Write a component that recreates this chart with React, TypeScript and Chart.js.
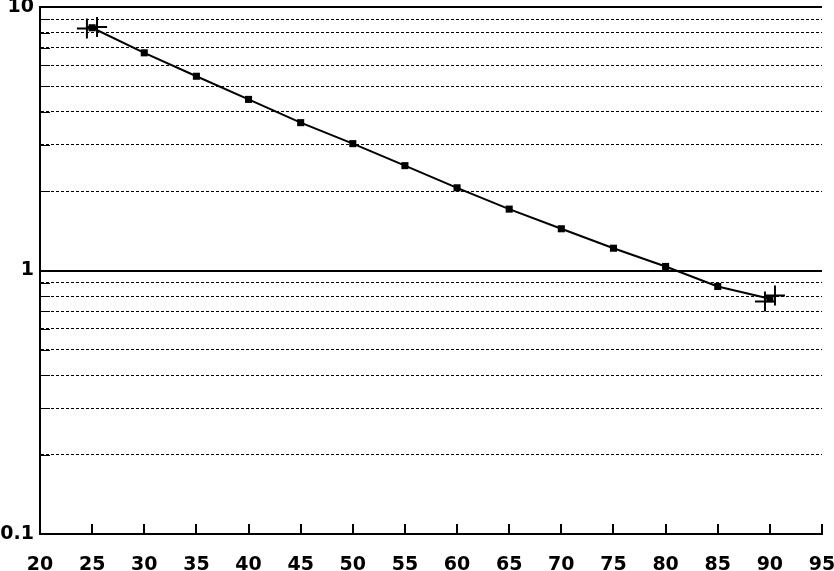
import React, { useEffect, useRef } from "react";
import { Chart, registerables } from "chart.js";

Chart.register(...registerables);

const xValues = [25, 30, 35, 40, 45, 50, 55, 60, 65, 70, 75, 80, 85, 90];
const yValues = [8.34, 6.7, 5.46, 4.46, 3.64, 3.03, 2.5, 2.06, 1.71, 1.44, 1.215, 1.036, 0.87, 0.781];
const crossX = [24.5, 25.47, 89.53, 90.49];
const crossY = [8.29, 8.4, 0.763, 0.804];
const yTickValues = [0.1, 0.2, 0.3, 0.4, 0.5, 0.6, 0.7, 0.8, 0.9, 1, 2, 3, 4, 5, 6, 7, 8, 9, 10];
const yLabelValues = [0.1, 1, 10];
const xMin = 20;
const xMax = 95;
const xStep = 5;

const isMajor = (v: number) => yLabelValues.some((m) => Math.abs(m - v) < 1e-9);

const inwardTicks = {
  id: "inwardTicks",
  afterDraw(chart: any) {
    const { ctx, chartArea, scales } = chart;
    ctx.save();
    ctx.strokeStyle = "#000";
    ctx.lineWidth = 2;
    scales.x.ticks.forEach((t: any) => {
      const px = Math.round(scales.x.getPixelForValue(t.value));
      ctx.beginPath();
      ctx.moveTo(px, chartArea.bottom);
      ctx.lineTo(px, chartArea.bottom - 10);
      ctx.stroke();
    });
    ctx.lineWidth = 1;
    scales.y.ticks.forEach((t: any) => {
      if (isMajor(t.value)) return;
      const py = Math.round(scales.y.getPixelForValue(t.value)) + 0.5;
      ctx.beginPath();
      ctx.moveTo(chartArea.left, py);
      ctx.lineTo(chartArea.left + 10, py);
      ctx.stroke();
    });
    ctx.restore();
  },
};

const zeroPad = (s: any) => {
  s.paddingLeft = 0;
  s.paddingRight = 0;
  s.paddingTop = 0;
  s.paddingBottom = 0;
};

export default function App() {
  const ref = useRef<HTMLCanvasElement | null>(null);
  useEffect(() => {
    document.body.style.margin = "0";
    if (!ref.current) return;
    Chart.defaults.font.family = "'DejaVu Sans', sans-serif";
    Chart.defaults.color = "#000";
    const chart = new Chart(ref.current, {
      type: "line",
      data: {
        datasets: [
          {
            data: xValues.map((x, i) => ({ x, y: yValues[i] })),
            borderColor: "#000",
            backgroundColor: "#000",
            borderWidth: 2,
            pointStyle: "rect",
            pointRadius: 5,
            pointBorderWidth: 0,
            tension: 0,
            clip: false,
          },
          {
            data: crossX.map((x, i) => ({ x, y: crossY[i] })),
            showLine: false,
            borderColor: "#000",
            backgroundColor: "#000",
            pointStyle: "cross",
            pointRadius: 10,
            pointBorderWidth: 2,
            clip: false,
          },
        ],
      },
      options: {
        responsive: false,
        animation: false,
        events: [],
        layout: { autoPadding: false, padding: { top: 7, right: 12, left: 0, bottom: 0 } },
        plugins: { legend: { display: false }, tooltip: { enabled: false } },
        scales: {
          x: {
            type: "linear",
            min: xMin,
            max: xMax,
            afterFit: (s: any) => {
              s.height = 37;
              zeroPad(s);
            },
            ticks: {
              stepSize: xStep,
              autoSkip: false,
              maxRotation: 0,
              padding: 20,
              font: { size: 19, weight: "bold" },
              color: "#000",
            },
            grid: { display: false, drawTicks: false },
            border: { display: true, color: "#000", width: 2 },
          },
          y: {
            type: "logarithmic",
            min: 0.1,
            max: 10,
            afterFit: (s: any) => {
              s.width = 40;
              zeroPad(s);
            },
            afterBuildTicks: (s: any) => {
              s.ticks = yTickValues.map((v) => ({ value: v, major: isMajor(v) }));
            },
            ticks: {
              autoSkip: false,
              padding: 6,
              font: { size: 19, weight: "bold" },
              color: "#000",
              callback: (v: any) => (isMajor(Number(v)) ? String(v) : ""),
            },
            grid: {
              drawTicks: false,
              color: "#000",
              lineWidth: (c: any) => (isMajor(c.tick.value) ? 2 : 1),
            },
            border: {
              display: true,
              color: "#000",
              width: 2,
              dash: (c: any) => (c.tick && isMajor(c.tick.value) ? [] : [3, 2]),
            },
          },
        },
      },
      plugins: [inwardTicks],
    } as any);
    return () => chart.destroy();
  }, []);
  return (
    <div style={{ width: 834, height: 571 }}>
      <canvas ref={ref} width={834} height={571} style={{ width: 834, height: 571, display: "block" }} />
    </div>
  );
}
